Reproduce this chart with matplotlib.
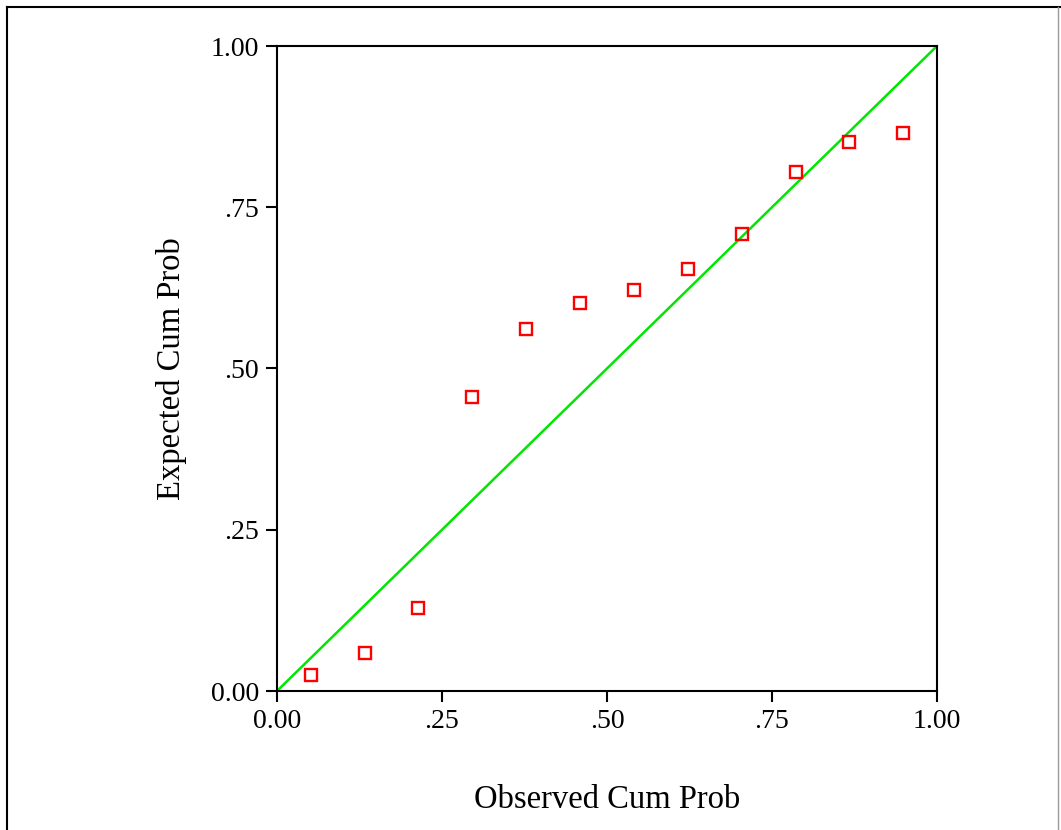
import numpy as np
import matplotlib.pyplot as plt
from matplotlib.lines import Line2D

plt.rcParams['font.family'] = ['Liberation Serif', 'DejaVu Serif']

# P-P plot data
observed = [0.051, 0.133, 0.214, 0.296, 0.378, 0.459, 0.541, 0.622, 0.704, 0.786, 0.867, 0.949]
expected = [0.025, 0.059, 0.129, 0.456, 0.561, 0.602, 0.622, 0.654, 0.709, 0.805, 0.851, 0.865]
tick_vals = [0.0, 0.25, 0.5, 0.75, 1.0]
tick_labels = ['0.00', '.25', '.50', '.75', '1.00']

W, H = 1061, 830
fig = plt.figure(figsize=(W / 100, H / 100), dpi=100)
ax = fig.add_axes([277 / W, 1 - 691 / H, 660 / W, 645 / H])

# reference diagonal
ax.plot([0, 1], [0, 1], color='#00e600', lw=1.8, zorder=2)
ax.plot(observed, expected, 's', ms=8, mfc='none', mec='#ff0000', mew=1.7,
        zorder=3, clip_on=False)

ax.set_xlim(0, 1)
ax.set_ylim(0, 1)
ax.set_xticks(tick_vals)
ax.set_xticklabels(tick_labels)
ax.set_yticks(tick_vals)
ax.set_yticklabels(tick_labels)
ax.tick_params(direction='out', length=8, width=1.5, labelsize=20, pad=5)
for s in ax.spines.values():
    s.set_linewidth(1.5)

ax.set_xlabel('Observed Cum Prob', fontsize=23.5, labelpad=36)
ax.set_ylabel('Expected Cum Prob', fontsize=23.5, labelpad=17)

# outer frame
fig.add_artist(Line2D([7 / W, 7 / W], [0, 1 - 7 / H], color='black', lw=1.5))
fig.add_artist(Line2D([7 / W, 1], [1 - 7 / H, 1 - 7 / H], color='black', lw=1.5))
fig.add_artist(Line2D([1058 / W, 1058 / W], [0, 1 - 7 / H], color='#999999', lw=1))

fig.savefig('out.png', dpi=100)
